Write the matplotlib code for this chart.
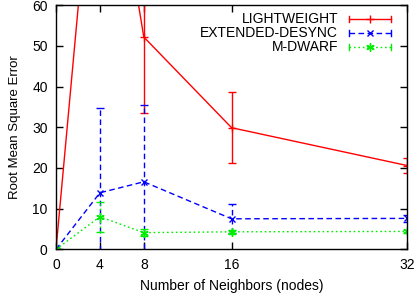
import matplotlib
matplotlib.use("Agg")
import matplotlib.pyplot as plt
from matplotlib.lines import Line2D

plt.rcParams['font.family'] = ['Liberation Sans', 'DejaVu Sans']

neighbors = [0, 4, 8, 16, 32]
lw_vals = [0.0, 118.0, 52.2, 29.9, 20.6]
lw_err = [0.0, 10.0, 18.6, 8.7, 1.9]
ed_vals = [0.0, 13.9, 16.6, 7.5, 7.6]
ed_err = [0.0, 20.9, 18.8, 3.6, 0.8]
md_vals = [0.0, 8.0, 4.1, 4.3, 4.4]
md_err = [0.0, 3.7, 0.8, 0.5, 0.4]
labels = ["LIGHTWEIGHT", "EXTENDED-DESYNC", "M-DWARF"]
xticks = [0, 4, 8, 16, 32]
yticks = [0, 10, 20, 30, 40, 50, 60]

fig = plt.figure(figsize=(4.15, 2.94), dpi=100)
ax = fig.add_axes([0.135, 0.152, 0.846, 0.830])

styles = [
    dict(color='#ff0000', ls='-', marker='+', ms=6),
    dict(color='#0000ff', ls=(0, (4, 2.5)), marker='x', ms=5),
    dict(color='#00ee00', ls=(0, (1.2, 2)), marker=(6, 2, 0), ms=6),
]
series = [(lw_vals, lw_err), (ed_vals, ed_err), (md_vals, md_err)]

for (v, e), st in zip(series, styles):
    cont = ax.errorbar(neighbors, v, yerr=e, color=st['color'], linestyle=st['ls'],
                       marker=st['marker'], ms=st['ms'], mew=1.0, lw=1.0,
                       capsize=3, capthick=1.0, elinewidth=1.0, clip_on=True)
    for bc in cont[2]:
        bc.set_linestyle(st['ls'])

ax.set_xlim(0, 32)
ax.set_ylim(0, 60)
ax.set_xticks(xticks)
ax.set_yticks(yticks)
ax.tick_params(direction='in', length=5, width=1, top=True, right=True,
               labelsize=10, colors='black')
ax.tick_params(axis='y', pad=6)
ax.tick_params(axis='x', pad=6)
for s in ax.spines.values():
    s.set_linewidth(1.0)
ax.set_xlabel("Number of Neighbors (nodes)", fontsize=10, labelpad=5)
ax.set_ylabel("Root Mean Square Error", fontsize=9.5, labelpad=8)

# gnuplot-style legend
W, H = 415.0, 294.0
x0, y0, w, h = 0.135 * W, 0.152 * H, 0.846 * W, 0.830 * H
def ax_coords(px, py):
    return ((px - x0) / w, ((H - py) - y0) / h)

ys = [19, 33, 47]
for lab, st, py in zip(labels, styles, ys):
    tx, ty = ax_coords(338, py)
    ax.text(tx, ty, lab, transform=ax.transAxes, ha='right', va='center', fontsize=10)
    xa, ya = ax_coords(349, py)
    xb, _ = ax_coords(391, py)
    xm, _ = ax_coords(370, py)
    _, dy = ax_coords(0, py - 3)
    ax.add_line(Line2D([xa, xb], [ya, ya], transform=ax.transAxes, color=st['color'],
                       ls=st['ls'], lw=1.0, clip_on=False))
    for xx in (xa, xb):
        ax.add_line(Line2D([xx, xx], [2 * ya - dy, dy], transform=ax.transAxes,
                           color=st['color'], lw=1.0, clip_on=False))
    ax.add_line(Line2D([xm], [ya], transform=ax.transAxes, color=st['color'],
                       marker=st['marker'], ms=st['ms'], mew=1.0, ls='none', clip_on=False))

fig.savefig("out.png", dpi=100)
